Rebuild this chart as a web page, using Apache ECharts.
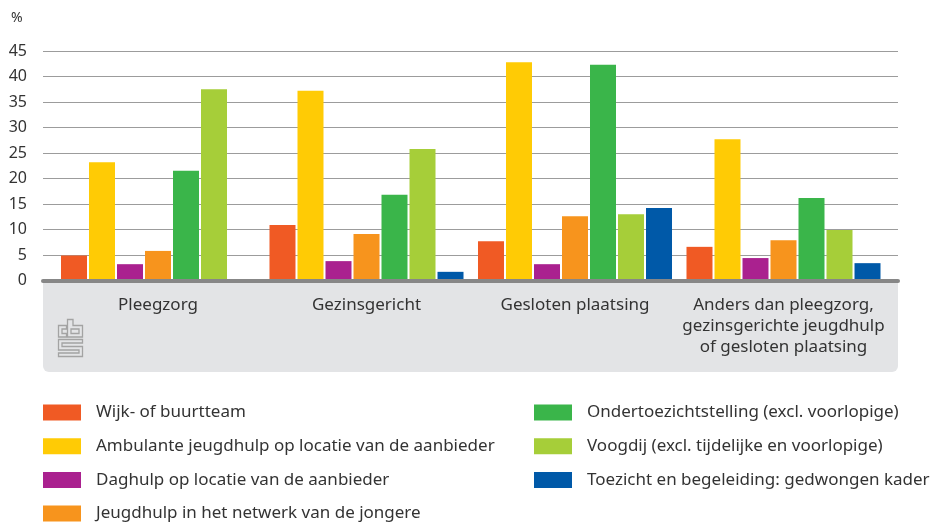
<!DOCTYPE html>
<html>
<head>
<meta charset="utf-8">
<script src="https://cdn.jsdelivr.net/npm/echarts@6/dist/echarts.min.js"></script>
<style>
  html, body { margin: 0; padding: 0; background: #fff; }
  #chart { width: 940px; height: 524px; }
</style>
</head>
<body>
<div id="chart"></div>
<script>
// Soort jeugdhulp: aandeel per verblijfsvorm (%)
const categories = [
  'Pleegzorg',
  'Gezinsgericht',
  'Gesloten plaatsing',
  'Anders dan pleegzorg,\ngezinsgerichte jeugdhulp\nof gesloten plaatsing'
];

const seriesNames = [
  'Wijk- of buurtteam',
  'Ambulante jeugdhulp op locatie van de aanbieder',
  'Daghulp op locatie van de aanbieder',
  'Jeugdhulp in het netwerk van de jongere',
  'Ondertoezichtstelling (excl. voorlopige)',
  'Voogdij (excl. tijdelijke en voorlopige)',
  'Toezicht en begeleiding: gedwongen kader'
];

const wijkteam      = [4.9, 10.9, 7.7, 6.6];
const ambulant      = [23.2, 37.2, 42.8, 27.7];
const daghulp       = [3.2, 3.8, 3.2, 4.4];
const netwerk       = [5.8, 9.1, 12.6, 7.9];
const ots           = [21.5, 16.8, 42.3, 16.2];
const voogdij       = [37.5, 25.8, 13.0, 9.9];
const toezicht      = [null, 1.7, 14.2, 3.4];

const yTicks = { min: 0, max: 45, interval: 5 };

const colors = ['#f05a24', '#ffcb05', '#aa218f', '#f7941d', '#3ab54a', '#a6ce39', '#0059a8'];
const values = [wijkteam, ambulant, daghulp, netwerk, ots, voogdij, toezicht];

const FONT = '"Noto Sans", sans-serif';
const TEXT = '#333333';

const chart = echarts.init(document.getElementById('chart'), null, { renderer: 'canvas' });

const series = values.map((v, i) => ({
  name: seriesNames[i],
  type: 'bar',
  xAxisIndex: 0,
  yAxisIndex: 0,
  data: v,
  barWidth: 26,
  barGap: '7.7%',
  itemStyle: { color: colors[i] },
  z: 3
}));

// one legend item per row, stacked in two columns
const legendBase = {
  orient: 'horizontal',
  top: 404,
  width: 10,
  padding: 0,
  icon: 'rect',
  itemWidth: 38,
  itemHeight: 16,
  itemGap: 16.7,
  selectedMode: false,
  textStyle: { fontFamily: FONT, fontSize: 17, color: TEXT, lineHeight: 16, padding: [0, 0, 0, 10] }
};

const logoStroke = { fill: 'none', stroke: '#a3a3a3', lineWidth: 1.3 };
const outline = (pts) => ({ type: 'polygon', shape: { points: pts }, style: logoStroke, silent: true });

chart.setOption({
  animation: false,
  textStyle: { fontFamily: FONT },
  title: {
    text: '%', left: 6, top: 6,
    textStyle: { fontFamily: FONT, fontSize: 14, fontWeight: 'normal', color: TEXT }
  },
  grid: [
    // bars
    { left: 53.75, right: 52.25, top: 51, bottom: 243.5 },
    // gridlines and baseline across the full width
    { left: 43, right: 42, top: 51, bottom: 243.5 }
  ],
  xAxis: [
    {
      type: 'category', gridIndex: 0, data: categories,
      axisLine: { show: false }, axisTick: { show: false },
      axisLabel: { interval: 0, margin: 14, fontFamily: FONT, fontSize: 17, color: TEXT, lineHeight: 21 }
    },
    {
      type: 'category', gridIndex: 1, data: [''],
      axisLine: { show: true, lineStyle: { color: '#878787', width: 4 } },
      axisTick: { show: false }, axisLabel: { show: false }, z: 4
    }
  ],
  yAxis: [
    {
      type: 'value', gridIndex: 0, min: yTicks.min, max: yTicks.max, interval: yTicks.interval,
      axisLine: { show: false }, axisTick: { show: false },
      axisLabel: { show: false }, splitLine: { show: false }
    },
    {
      type: 'value', gridIndex: 1, min: yTicks.min, max: yTicks.max, interval: yTicks.interval,
      axisLine: { show: false }, axisTick: { show: false },
      axisLabel: { margin: 16, fontFamily: FONT, fontSize: 16, color: TEXT },
      splitLine: { show: true, lineStyle: { color: '#9c9c9c', width: 1.2 } }
    }
  ],
  legend: [
    Object.assign({}, legendBase, { left: 43, data: seriesNames.slice(0, 4) }),
    Object.assign({}, legendBase, { left: 534, data: seriesNames.slice(4) })
  ],
  graphic: [
    {
      type: 'rect', z: -10, silent: true,
      shape: { x: 43, y: 282, width: 855, height: 90, r: [0, 0, 6, 6] },
      style: { fill: '#e3e4e6' }
    },
    {
      // cbs beeldmerk
      type: 'group', x: 58, y: 319, z: -5, silent: true,
      children: [
        outline([[0.5, 6.5], [8.5, 6.5], [8.5, 10], [4, 10], [4, 14.5], [8.5, 14.5], [8.5, 18], [0.5, 18]]),
        outline([[9.5, 0.5], [15, 0.5], [15, 6.5], [24.5, 6.5], [24.5, 18], [9.5, 18]]),
        outline([[13, 10], [21, 10], [21, 14.5], [13, 14.5]]),
        outline([[0.5, 20.5], [24.5, 20.5], [24.5, 24], [4, 24], [4, 27.5], [24.5, 27.5], [24.5, 37.5],
                 [0.5, 37.5], [0.5, 34], [21, 34], [21, 31], [0.5, 31]])
      ]
    }
  ],
  series: series
});
</script>
</body>
</html>
